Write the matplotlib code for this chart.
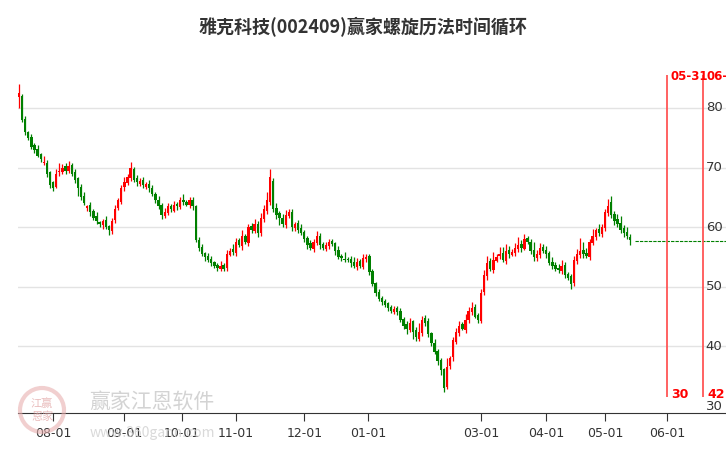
import matplotlib
matplotlib.use("Agg")
import matplotlib.pyplot as plt
import numpy as np
from matplotlib.patches import Ellipse

plt.rcParams['font.family'] = ['Noto Sans CJK SC', 'DejaVu Sans']

title = "雅克科技(002409)赢家螺旋历法时间循环"
closes = [82.5,78,76,75,73.5,73,72,71.5,71,69,
          67,66.5,69,69.5,70,69.5,70.2,69,68,66.5,
          65,64,63.5,62.5,61.5,61,60.5,61,60,59.5,
          61,63,64.5,66.5,67.5,68.5,70,68,67.5,67.8,
          67,67.2,66.5,65.5,64.5,63.5,62,62.5,63.5,63,
          63.8,63.5,64.5,64.2,63.8,64.5,63.5,57.8,56.5,55.5,
          55,54.5,54,53.5,53.2,53.5,53,55.5,56,55.8,
          57.5,57,58.5,57.5,60,59.5,60.5,59,61.5,63,
          64.5,68.5,63,62,61.5,60.5,62,62.5,60,60.5,
          59.5,59,58,57,56.5,57.5,58.5,57,56.5,57,
          57.5,57.2,56,55,54.8,54.5,54.5,54,53.5,54.2,
          53.5,54.8,55,52.5,50.5,49,48,47.5,47,46.5,
          46,46.2,45.8,44.5,43.5,43,44,42.5,41.5,42.5,
          44.5,44,42,40.5,39,37.5,36,33,36.5,38,
          41,42.5,43.5,43,44.5,46,46.5,45,44.5,49,
          52,54,53,54.5,55,55.5,54.5,56,55.5,55.8,
          56.5,57,56.5,58,57.5,56,55,55.5,56.5,56,
          55.5,54,53.5,53,52.8,53.5,52,51.5,50.5,54.5,
          55.5,56,55.5,55.2,57.5,58.5,59.5,59,60,62.5,
          63.5,62,61,60.5,59.5,59,58.5,57.8]
opens = [81.8,82.0,78.2,76.0,75.2,73.8,73.2,72.3,70.8,70.8,
         69.2,67.5,66.8,69.2,69.3,70.3,69.4,70.4,69.2,68.2,
         66.8,65.3,63.2,63.8,62.8,61.8,60.8,60.3,61.2,60.2,
         59.3,61.2,63.2,64.3,66.7,67.4,68.3,69.8,68.2,67.2,
         67.9,66.8,67.3,66.6,65.6,64.6,63.7,61.9,62.4,63.6,
         62.8,63.9,63.4,64.6,64.3,63.7,64.6,63.6,57.9,56.7,
         55.6,55.2,54.6,54.1,53.6,53.0,53.7,53.2,55.4,56.3,
         55.6,57.8,56.8,58.6,57.4,60.2,59.3,60.6,59.0,61.3,
         62.8,64.3,67.8,63.2,62.4,61.6,60.4,61.8,62.6,59.8,
         60.7,59.8,59.2,58.2,57.3,56.4,57.4,58.6,57.2,56.4,
         56.8,57.7,57.3,56.2,55.1,54.6,54.7,54.6,54.2,53.4,
         54.3,53.4,54.6,55.2,52.6,50.6,49.2,48.2,47.6,47.2,
         46.6,45.8,46.4,45.9,44.6,43.8,42.8,44.2,42.8,41.3,
         42.3,44.8,44.2,42.2,40.6,39.2,37.7,36.2,33.2,36.7,
         38.2,40.8,42.3,43.7,42.8,44.4,45.8,46.6,45.2,44.3,
         49.2,51.8,54.3,52.8,54.4,55.2,55.7,54.4,56.2,55.4,
         55.6,56.3,57.2,56.4,58.2,57.6,56.2,54.8,55.4,56.7,
         56.2,55.6,54.2,53.6,53.2,52.7,53.7,52.2,51.8,50.6,
         54.3,55.3,56.2,55.7,55.0,57.3,58.4,59.7,58.8,59.8,
         62.4,64.3,62.2,61.3,60.7,59.8,59.2,58.4]
upper_shadow = [1.5,0.3,0.4,0.2,0.5,0.3,0.6,0.2,1.0,0.4,
                0.3,0.2,0.8,1.2,0.6,0.4,0.9,0.3,0.5,0.2,
                0.4,0.6,0.3,0.5,0.2,0.7,0.3,0.4,0.6,0.2,
                0.5,0.8,0.4,0.6,1.0,0.5,0.9,0.3,0.6,0.4,
                0.5,0.3,0.7,0.4,0.3,0.6,0.4,0.8,0.5,0.3,
                0.6,0.4,0.5,0.9,0.3,0.6,0.4,0.2,0.5,0.4,
                0.3,0.5,0.6,0.2,0.4,0.8,0.3,0.6,0.5,0.9,
                0.7,0.4,1.0,0.3,0.6,0.5,0.8,0.4,0.9,0.7,
                1.4,1.2,0.5,0.8,0.4,0.6,0.9,0.5,0.4,0.3,
                0.5,0.7,0.4,0.3,0.6,0.5,0.8,0.4,0.3,0.6,
                0.5,0.4,0.3,0.6,0.4,1.2,0.3,0.5,0.8,0.6,
                0.4,0.7,0.5,0.3,0.4,0.2,0.5,0.3,0.4,0.2,
                0.3,0.6,0.4,0.5,0.3,0.4,0.8,0.3,0.5,1.5,
                0.6,0.4,0.5,0.3,0.6,0.4,0.3,0.2,1.6,0.4,
                0.5,0.6,0.8,0.4,0.9,0.6,1.0,0.5,0.4,0.6,
                0.8,1.2,0.6,1.4,0.5,1.1,1.0,1.2,0.6,0.5,
                0.9,1.3,0.6,0.8,0.4,0.5,1.3,0.6,0.9,0.5,
                0.6,0.4,0.8,0.5,0.6,1.0,0.4,0.3,0.3,0.6,
                0.9,2.2,1.3,0.8,0.5,1.2,0.4,0.8,0.5,0.6,
                1.3,1.0,0.5,0.9,1.2,0.5,0.8,0.4]
lower_shadow = [1.8,0.4,0.5,0.3,0.4,0.6,0.3,0.5,0.4,0.6,
                0.5,0.4,0.3,0.6,0.4,0.5,0.3,0.4,0.6,1.3,
                0.5,0.3,0.4,0.6,0.3,0.5,0.4,0.6,0.3,0.8,
                0.4,0.5,0.3,0.4,0.6,0.3,0.5,0.4,0.6,0.3,
                0.5,0.4,0.6,0.3,0.5,0.4,0.6,0.3,0.4,0.5,
                0.3,0.6,0.4,0.5,0.3,0.4,0.6,0.3,0.5,0.4,
                0.6,0.3,0.5,0.4,0.6,0.3,0.4,0.5,0.3,0.4,
                0.5,0.4,0.6,0.3,0.5,0.4,0.3,0.6,0.4,0.5,
                0.6,0.5,0.4,0.6,1.1,0.4,0.5,0.3,0.6,0.4,
                0.5,0.3,0.4,0.6,0.3,0.5,0.4,0.6,0.3,0.4,
                0.5,0.4,0.6,0.3,0.5,0.4,0.3,0.6,0.4,0.5,
                0.3,0.4,0.5,0.6,0.4,0.5,0.3,0.6,0.4,0.5,
                0.4,0.3,0.6,0.4,0.5,1.0,0.4,1.2,0.6,0.4,
                0.5,0.6,0.4,0.5,0.3,0.6,0.8,0.6,0.4,0.5,
                0.6,0.4,0.5,0.3,0.6,0.4,0.5,0.3,0.6,0.4,
                0.5,0.6,0.4,0.5,0.3,0.6,0.4,0.5,0.6,0.3,
                0.4,0.5,0.6,0.3,0.4,0.5,0.6,0.4,0.5,0.3,
                0.6,0.4,0.5,0.3,0.4,0.6,0.5,0.4,0.8,0.5,
                0.4,0.5,0.6,0.4,0.5,0.3,0.6,0.4,0.5,0.4,
                0.5,0.4,0.6,0.5,0.4,0.6,0.5,0.8]

tick_idx = [11, 34, 52.6, 70, 92, 112.6, 149, 170, 189, 209]
tick_labels = ["08-01","09-01","10-01","11-01","12-01","01-01","03-01","04-01","05-01","06-01"]
ytick_vals = [30, 40, 50, 60, 70, 80]
cycle_idx = [209, 220.6]
cycle_dates = ["05-31", "06-"]
cycle_days = ["30", "42"]
last_price = 57.7

fig = plt.figure(figsize=(7.26, 4.5), dpi=100)
ax = fig.add_axes([18/726, 37/450, 708/726, 353/450])
ax.set_xlim(-0.32, 228)
ax.set_ylim(28.83, 88.05)

for v in [40, 50, 60, 70, 80]:
    ax.axhline(v, color='#e3e3e3', lw=1, zorder=0)

for i, (o, c) in enumerate(zip(opens, closes)):
    col = '#ff0000' if c >= o else '#008000'
    hi = max(o, c) + upper_shadow[i]
    lo = min(o, c) - lower_shadow[i]
    ax.vlines(i, lo, hi, color=col, lw=0.9, zorder=2)
    ax.bar(i, max(abs(c - o), 0.15), bottom=min(o, c), width=0.75, color=col, zorder=3, linewidth=0)

ax.hlines(last_price, len(closes) + 0.5, 228, colors='#008000', linestyles=(0, (3, 1)), lw=0.8, zorder=2)

for x, d, n in zip(cycle_idx, cycle_dates, cycle_days):
    ax.vlines(x, 31.5, 85.5, color='#ff5555', lw=1.3, zorder=2)
    ax.text(x + 1.2, 85.3, d, color='#ff0000', fontsize=8.5, fontweight='bold', va='center', ha='left', family='DejaVu Sans')
    ax.text(x + 1.3, 31.9, n, color='#ff0000', fontsize=9, fontweight='bold', va='center', ha='left', family='DejaVu Sans')

for v in ytick_vals:
    ax.text(224.2, v, str(v), fontsize=9.5, color='#333333', ha='center', va='center', family='DejaVu Sans')

ax.set_yticks([])
ax.set_xticks(tick_idx)
ax.set_xticklabels(tick_labels, fontsize=9, color='#333333', family='DejaVu Sans')
ax.tick_params(axis='x', length=6, color='#333333', pad=4)
for s in ['top', 'right', 'left']:
    ax.spines[s].set_visible(False)
ax.spines['bottom'].set_color('#333333')

# watermark
fig.patches.append(Ellipse((42/726, 1 - 410/450), 44/726, 44/450, transform=fig.transFigure,
                           facecolor='none', edgecolor='#e8b0b0', lw=3, alpha=0.6))
fig.text(42/726, 1 - 410/450, "江赢\n恩家", fontsize=8, color='#e0a0a0', ha='center', va='center', alpha=0.7)
fig.text(152/726, 1 - 402/450, "赢家江恩软件", fontsize=15, color='#c8c8c8', ha='center', va='center', alpha=0.8)
fig.text(152/726, 1 - 433/450, "www.360gann.com", fontsize=10, color='#d0d0d0', ha='center', va='center', alpha=0.8)

fig.text(0.5, 1 - 27/450, title, fontsize=13, fontweight='bold', color='#333333', ha='center', va='center')

fig.savefig("out.png", dpi=100)
